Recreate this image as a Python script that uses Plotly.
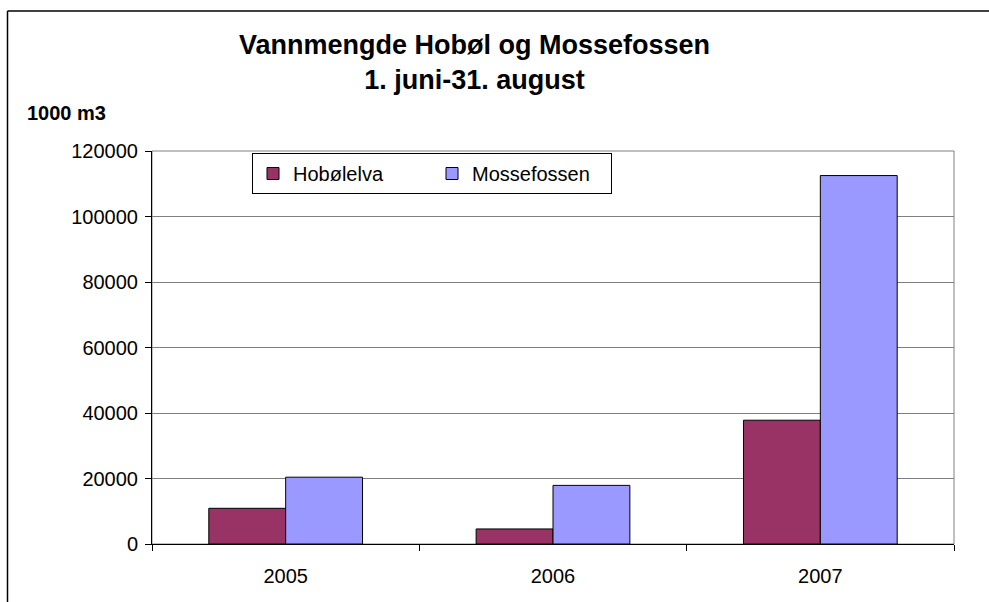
import plotly.graph_objects as go

years = ["2005", "2006", "2007"]
hobolelva = [10900, 4600, 37800]
mossefossen = [20400, 17900, 112500]

FONT = "Liberation Sans, Arial, sans-serif"

W, H = 989, 602

# plot area in window pixels
PL, PR, PT, PB = 152, 954, 151, 544
L, R, T, B = PL, W - PR, PT, H - PB
pw = PR - PL
ph = PB - PT


def px_x(px):
    return (px - PL) / pw


def px_y(py):
    return (PB - py) / ph


fig = go.Figure()
fig.add_trace(go.Bar(name="Hobølelva", x=years, y=hobolelva,
                     marker=dict(color="#993366", line=dict(color="#000000", width=1))))
fig.add_trace(go.Bar(name="Mossefossen", x=years, y=mossefossen,
                     marker=dict(color="#9999FF", line=dict(color="#000000", width=1))))

fig.update_layout(
    width=W, height=H,
    margin=dict(l=L, r=R, t=T, b=B, autoexpand=False),
    paper_bgcolor="white", plot_bgcolor="white",
    font=dict(family=FONT, size=20, color="black"),
    barmode="group", bargap=0.425, bargroupgap=0,
    title=dict(text="<b>Vannmengde Hobøl og Mossefossen<br>1. juni-31. august</b>",
               font=dict(family=FONT, size=27, color="black"),
               xref="container", x=474.5 / W, xanchor="center",
               yref="container", y=1 - 53.5 / H, yanchor="middle"),
    showlegend=True,
    legend=dict(orientation="h", x=px_x(252), y=px_y(153), xanchor="left", yanchor="top",
                bordercolor="black", borderwidth=1, bgcolor="white",
                font=dict(family=FONT, size=20, color="black"),
                entrywidth=134, entrywidthmode="pixels", traceorder="normal"),
    xaxis=dict(type="category", showline=True, linecolor="black", linewidth=1,
               ticks="outside", tickson="boundaries", ticklen=6, tickcolor="black",
               showgrid=False, zeroline=False, ticklabelstandoff=14,
               tickfont=dict(family=FONT, size=20, color="black")),
    yaxis=dict(range=[0, 120000], dtick=20000, tickformat="d",
               showline=True, linecolor="black", linewidth=1,
               ticks="outside", ticklen=6, tickcolor="black",
               showgrid=True, gridcolor="#808080", gridwidth=1, zeroline=False,
               ticklabelstandoff=3,
               tickfont=dict(family=FONT, size=20, color="black")),
    shapes=[
        dict(type="rect", xref="paper", yref="paper", x0=0, x1=1, y0=0, y1=1,
             line=dict(color="#808080", width=1), layer="below"),
        dict(type="line", xref="paper", yref="paper",
             x0=px_x(7.5), x1=px_x(7.5), y0=px_y(11), y1=px_y(H + 5),
             line=dict(color="black", width=1.5)),
        dict(type="line", xref="paper", yref="paper",
             x0=px_x(7.5), x1=px_x(W + 5), y0=px_y(11), y1=px_y(11),
             line=dict(color="black", width=1.5)),
    ],
    annotations=[
        dict(text="<b>1000 m3</b>", xref="paper", yref="paper",
             x=px_x(25), y=px_y(113), xanchor="left", yanchor="middle",
             showarrow=False, font=dict(family=FONT, size=20, color="black")),
    ],
)

fig.write_html("out.html",
               config={"displayModeBar": False},
               post_script="document.body.style.margin='0';document.body.style.overflow='hidden';")
